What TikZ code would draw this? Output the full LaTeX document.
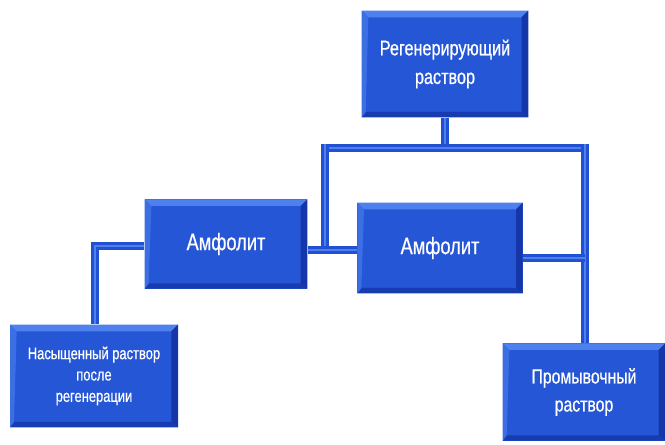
\documentclass[tikz,border=0pt]{standalone}
\usepackage{fontspec}
\newfontfamily\uzkij[FakeStretch=0.77, FakeBold=0.6]{Liberation Sans}
\usetikzlibrary{positioning, calc}

\definecolor{amblue}{RGB}{36,86,214}
\definecolor{amtop}{RGB}{78,128,238}
\definecolor{amdark}{RGB}{20,54,168}
\definecolor{amline}{RGB}{34,80,210}

\begin{document}
\begin{tikzpicture}[
    x=0.75pt, y=-0.75pt,
    blok/.style={rectangle, fill=amblue, text=white, align=center,
        inner sep=0pt,
        path picture={
            \fill[amtop] (path picture bounding box.north west) -- (path picture bounding box.north east)
                -- ([shift={(-5pt,-5pt)}]path picture bounding box.north east)
                -- ([shift={(5pt,-5pt)}]path picture bounding box.north west) -- cycle;
            \fill[amdark] (path picture bounding box.north east) -- (path picture bounding box.south east)
                -- ([shift={(-5pt,4pt)}]path picture bounding box.south east)
                -- ([shift={(-5pt,-5pt)}]path picture bounding box.north east) -- cycle;
            \fill[amdark!80!amblue] (path picture bounding box.south west) -- (path picture bounding box.south east)
                -- ([shift={(-5pt,4pt)}]path picture bounding box.south east)
                -- ([shift={(3pt,4pt)}]path picture bounding box.south west) -- cycle;
            \fill[amtop!60!amblue] (path picture bounding box.north west) -- (path picture bounding box.south west)
                -- ([shift={(3pt,4pt)}]path picture bounding box.south west)
                -- ([shift={(5pt,-5pt)}]path picture bounding box.north west) -- cycle;
        }},
    truba/.style={draw=amline, line width=6pt,
        postaction={draw=amtop, line width=1.5pt}}
]
\useasboundingbox (0,0) rectangle (665,445);

% блоки
\node[blok, minimum width=125pt, minimum height=80pt,
      font=\uzkij\fontsize{15.8}{21.5}\selectfont] (reg) at (445,64) {Регенерирующий\\раствор};
\node[blok, minimum width=122pt, minimum height=67pt,
      font=\uzkij\fontsize{17.8}{20}\selectfont] (amf1) at (226,244) {Амфолит};
\node[blok, minimum width=124pt, minimum height=68pt,
      font=\uzkij\fontsize{17.8}{20}\selectfont] (amf2) at (440,248) {Амфолит};
\node[blok, minimum width=126pt, minimum height=77pt,
      font=\uzkij\fontsize{12.6}{16}\selectfont] (nas) at (94,376) {Насыщенный раствор\\после\\регенерации};
\node[blok, minimum width=122pt, minimum height=73pt,
      font=\uzkij\fontsize{15.4}{21}\selectfont] (prom) at (584,392) {Промывочный\\раствор};

% точки разветвления
\coordinate (barL) at (325,148);
\coordinate (barR) at (585,148);
\coordinate (uzel) at (325,250);
\coordinate (levo) at (95,246);
\coordinate (pravo) at (585,258);

% соединения
\draw[truba] (reg.south) -- (reg.south |- barL);
\draw[truba] ([xshift=-3pt]barL) -- ([xshift=3pt]barR);
\draw[truba] ([yshift=3pt]barL) -- (uzel);
\draw[truba] (amf1.east |- uzel) -- (amf2.west |- uzel);
\draw[truba] (amf1.west |- levo) -| (nas.north -| levo);
\draw[truba] ([yshift=3pt]barR) -- (prom.north -| barR);
\draw[truba] (amf2.east |- pravo) -- (pravo);

\end{tikzpicture}
\end{document}
